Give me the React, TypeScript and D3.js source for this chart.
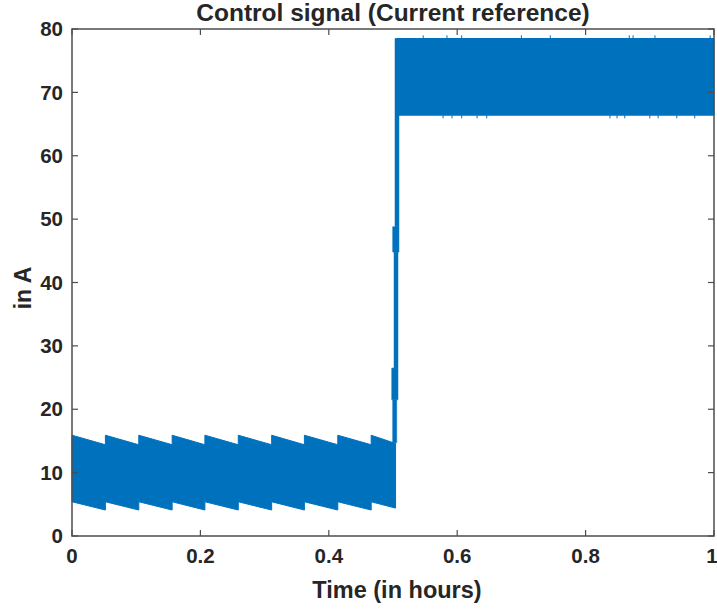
import React from "react";
import * as d3 from "d3";

// ---- data ----
const toothStarts = [0, 0.052, 0.104, 0.156, 0.207, 0.259, 0.311, 0.362, 0.414, 0.466];
const lowBandEnd = 0.504;
const upperPeak = [15.9, 15.9, 15.9, 15.9, 15.9, 15.9, 15.9, 15.9, 15.9, 15.9];
const upperTrough = [14.4, 14.4, 14.4, 14.4, 14.4, 14.4, 14.4, 14.4, 14.4, 14.6];
const lowerPeak = [5.4, 5.4, 5.4, 5.4, 5.4, 5.4, 5.4, 5.4, 5.4, 5.4];
const lowerTrough = [4.1, 4.1, 4.1, 4.1, 4.1, 4.1, 4.1, 4.1, 4.1, 4.4];

// transition segments: [tLeft, tRight, vLow, vHigh]
const transitionSegs: [number, number, number, number][] = [
  [0.4995, 0.5058, 14.7, 21.5],
  [0.498, 0.5078, 21.5, 26.5],
  [0.5016, 0.5078, 26.5, 44.8],
  [0.4995, 0.5093, 44.8, 48.8],
  [0.5031, 0.5093, 48.8, 78.5],
];

const highStart = 0.505;
const highEnd = 1;
const highTop = 78.5;
const highBottom = 66.4;
const spikesTop = [0.547, 0.584, 0.607, 0.7, 0.745, 0.868, 0.874, 0.908, 0.994];
const spikesBottom = [0.578, 0.592, 0.607, 0.631, 0.646, 0.838, 0.849, 0.861, 0.9, 0.913, 0.942, 0.97];

const xTicks = [0, 0.2, 0.4, 0.6, 0.8, 1];
const xTickLabels = ["0", "0.2", "0.4", "0.6", "0.8", "1"];
const yTicks = [0, 10, 20, 30, 40, 50, 60, 70, 80];

const title = "Control signal (Current reference)";
const xLabel = "Time (in hours)";
const yLabel = "in A";

// ---- layout ----
const W = 717, H = 611;
const L = 72, R = 714, T = 29, B = 536;
const BLUE = "#0072BD";
const TXT = "#262626";
const FONT = "'Liberation Sans', Arial, sans-serif";

export default function App() {
  const x = d3.scaleLinear().domain([0, 1]).range([L, R]);
  const y = d3.scaleLinear().domain([0, 80]).range([B, T]);
  const line = d3.line<[number, number]>().x((d) => x(d[0])).y((d) => y(d[1]));

  // low band polygon
  const top: [number, number][] = [];
  const bot: [number, number][] = [];
  toothStarts.forEach((t0, i) => {
    const t1 = i + 1 < toothStarts.length ? toothStarts[i + 1] : lowBandEnd;
    top.push([t0, upperPeak[i]], [t1, upperTrough[i]]);
    bot.push([t0, lowerPeak[i]], [t1, lowerTrough[i]]);
  });
  const lowPoly = [...top, ...bot.reverse()];

  const highPoly: [number, number][] = [
    [highStart, highBottom],
    [highStart, highTop],
    [highEnd, highTop],
    [highEnd, highBottom],
  ];

  return (
    <svg width={W} height={H} style={{ position: "absolute", left: 0, top: 0, background: "#fff" }}>
      <rect x={0} y={0} width={W} height={H} fill="#fff" />
      {/* data */}
      <path d={line(lowPoly) + "Z"} fill={BLUE} stroke={BLUE} strokeWidth={1} />
      {transitionSegs.map((s, i) => (
        <path
          key={i}
          d={line([[s[0], s[2]], [s[0], s[3]], [s[1], s[3]], [s[1], s[2]]]) + "Z"}
          fill={BLUE}
          stroke={BLUE}
          strokeWidth={0.5}
        />
      ))}
      <path d={line(highPoly) + "Z"} fill={BLUE} stroke={BLUE} strokeWidth={1} />
      {spikesTop.map((t, i) => (
        <path key={"st" + i} d={line([[t, highTop], [t, highTop + 0.5]]) || ""} stroke={BLUE} strokeWidth={1} />
      ))}
      {spikesBottom.map((t, i) => (
        <path key={"sb" + i} d={line([[t, highBottom], [t, highBottom - 0.5]]) || ""} stroke={BLUE} strokeWidth={1} />
      ))}

      {/* axes box */}
      <rect x={L} y={T} width={R - L} height={B - T} fill="none" stroke="#4d4d4d" strokeWidth={1.5} />
      {xTicks.map((t, i) => (
        <g key={"xt" + i}>
          <line x1={x(t)} x2={x(t)} y1={B} y2={B - 6} stroke="#4d4d4d" strokeWidth={1.2} />
          <line x1={x(t)} x2={x(t)} y1={T} y2={T + 6} stroke="#4d4d4d" strokeWidth={1.2} />
          <text
            x={i === xTicks.length - 1 ? x(t) - 2 : x(t)}
            y={563}
            textAnchor="middle"
            fontFamily={FONT}
            fontWeight="bold"
            fontSize={20.5}
            fill={TXT}
          >
            {xTickLabels[i]}
          </text>
        </g>
      ))}
      {yTicks.map((v, i) => (
        <g key={"yt" + i}>
          <line x1={L} x2={L + 6} y1={y(v)} y2={y(v)} stroke="#4d4d4d" strokeWidth={1.2} />
          <line x1={R} x2={R - 6} y1={y(v)} y2={y(v)} stroke="#4d4d4d" strokeWidth={1.2} />
          <text
            x={63}
            y={y(v)}
            dy="0.35em"
            textAnchor="end"
            fontFamily={FONT}
            fontWeight="bold"
            fontSize={20.5}
            fill={TXT}
          >
            {v}
          </text>
        </g>
      ))}
      <text x={393} y={21} textAnchor="middle" fontFamily={FONT} fontWeight="bold" fontSize={24.5} fill={TXT}>
        {title}
      </text>
      <text x={397} y={598} textAnchor="middle" fontFamily={FONT} fontWeight="bold" fontSize={23.5} fill={TXT}>
        {xLabel}
      </text>
      <text
        transform={`translate(31, ${288}) rotate(-90)`}
        textAnchor="middle"
        fontFamily={FONT}
        fontWeight="bold"
        fontSize={23}
        fill={TXT}
      >
        {yLabel}
      </text>
    </svg>
  );
}
